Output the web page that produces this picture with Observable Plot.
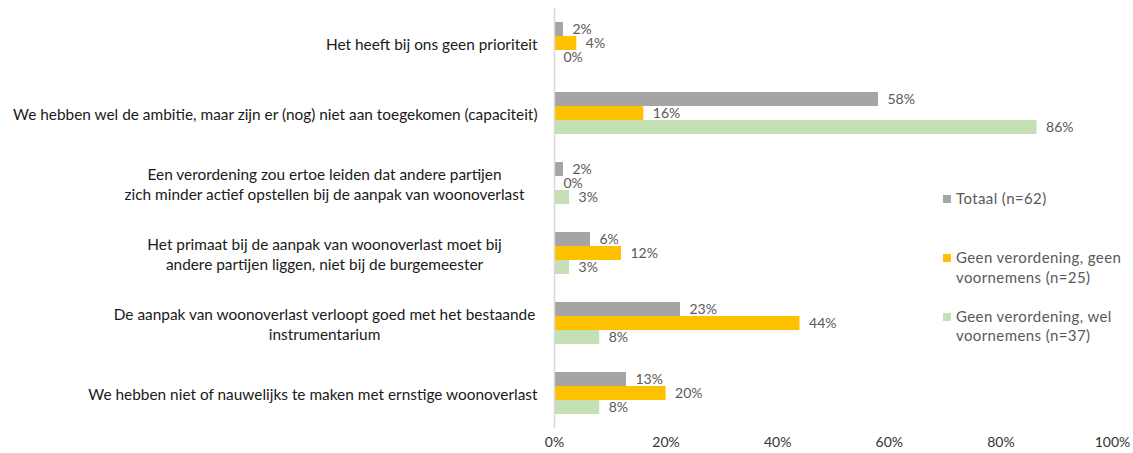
<!DOCTYPE html>
<html>
<head>
<meta charset="utf-8">
<script src="https://cdn.jsdelivr.net/npm/d3@7"></script>
<script src="https://cdn.jsdelivr.net/npm/@observablehq/plot@0.6"></script>
<style>
  body { margin: 0; background: #fff; font-family: Lato, "Open Sans", sans-serif; }
  #wrap { position: relative; width: 1133px; height: 453px; }
  #legend { position: absolute; left: 943px; top: 189px; color: #595959; font-size: 15px; letter-spacing: 0.4px; line-height: 19.5px; }
  .item { position: relative; padding-left: 13px; }
  .sw { position: absolute; left: 0; top: 6px; width: 8px; height: 8px; }
</style>
</head>
<body>
<div id="wrap"><div id="legend"></div></div>
<script>
const categories = [
  "Het heeft bij ons geen prioriteit",
  "We hebben wel de ambitie, maar zijn er (nog) niet aan toegekomen (capaciteit)",
  "Een verordening zou ertoe leiden dat andere partijen\nzich minder actief opstellen bij de aanpak van woonoverlast",
  "Het primaat bij de aanpak van woonoverlast moet bij\nandere partijen liggen, niet bij de burgemeester",
  "De aanpak van woonoverlast verloopt goed met het bestaande\ninstrumentarium",
  "We hebben niet of nauwelijks te maken met ernstige woonoverlast"
];
const series = ["Totaal (n=62)", "Geen verordening, geen voornemens (n=25)", "Geen verordening, wel voornemens (n=37)"];
const legendLabels = ["Totaal (n=62)", "Geen verordening, geen<br>voornemens (n=25)", "Geen verordening, wel<br>voornemens (n=37)"];
const colors = ["#A5A5A5", "#FFC000", "#C5E0B4"];
const totaal = [1.61, 58.06, 1.61, 6.45, 22.58, 12.90];
const geenVoornemens = [4, 16, 0, 12, 44, 20];
const welVoornemens = [0, 86.49, 2.70, 2.70, 8.11, 8.11];
const xTicks = [0, 20, 40, 60, 80, 100];

const values = [totaal, geenVoornemens, welVoornemens];
const data = [];
categories.forEach((c, i) => series.forEach((s, j) => data.push({cat: c, series: s, value: values[j][i]})));

const labelStyle = {fill: "#1a1a1a", fontSize: 15.4, lineHeight: 1.3, frameAnchor: "left"};

const chart = Plot.plot({
  width: 1133,
  height: 453,
  marginLeft: 554,
  marginRight: 21,
  marginTop: 8,
  marginBottom: 25,
  style: {fontFamily: "Lato, sans-serif", fontSize: "14px", color: "#333", background: "#fff"},
  x: {domain: [0, 100], ticks: xTicks, tickFormat: d => d + "%", tickSize: 0, tickPadding: 9, label: null},
  fy: {domain: categories, padding: 0, axis: null},
  y: {domain: series, paddingInner: 0, paddingOuter: 0.95, axis: null},
  color: {domain: series, range: colors},
  marks: [
    Plot.barX(data, {fy: "cat", y: "series", x: "value", fill: "series"}),
    Plot.ruleX([0], {stroke: "#D9D9D9", strokeWidth: 1.5}),
    Plot.text(data, {fy: "cat", y: "series", x: "value", text: d => Math.round(d.value) + "%", dx: 9, textAnchor: "start", fill: "#595959", fontSize: 14}),
    Plot.text(categories.filter(d => !d.includes("\n")), {fy: d => d, text: d => d, textAnchor: "end", dx: -17, ...labelStyle}),
    Plot.text(categories.filter(d => d.includes("\n")), {fy: d => d, text: d => d, textAnchor: "middle", dx: -230, ...labelStyle})
  ]
});
const wrap = document.getElementById("wrap");
wrap.insertBefore(chart, wrap.firstChild);
const legend = document.getElementById("legend");
const gaps = [39.5, 19.5, 0];
series.forEach((s, j) => {
  const d = document.createElement("div");
  d.className = "item";
  d.style.marginBottom = gaps[j] + "px";
  d.innerHTML = `<span class="sw" style="background:${colors[j]}"></span>${legendLabels[j]}`;
  legend.appendChild(d);
});
</script>
</body>
</html>
